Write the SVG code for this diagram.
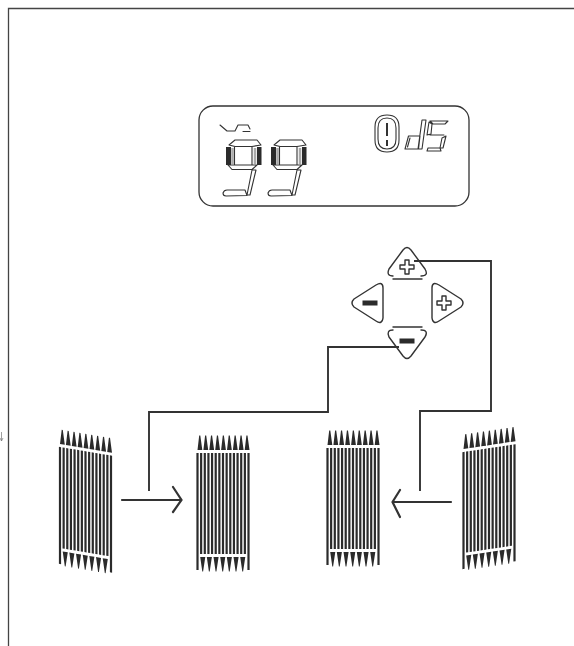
<svg xmlns="http://www.w3.org/2000/svg" width="574" height="646" viewBox="0 0 574 646">
<style>
.o{fill:none;stroke:#333;stroke-width:1.1;stroke-linejoin:round;stroke-linecap:round}
.k{fill:none;stroke:#333;stroke-width:1.400;stroke-linejoin:round;stroke-linecap:round}
.w{fill:none;stroke:#333;stroke-width:1.900;stroke-linejoin:miter;stroke-linecap:butt}
.a{fill:none;stroke:#333;stroke-width:2.200;stroke-linecap:round;stroke-linejoin:miter}
.b{fill:#2b2b2b}
.n{fill:none;stroke:#2b2b2b;stroke-width:2.200}
</style>
<defs>
<g id="digit">
<rect x="226" y="147" width="5" height="18" class="b"/>
<rect x="257" y="147" width="4.500" height="18" class="b"/>
<path d="M232.500 148V164M255 148V164" stroke="#aaa" stroke-width="2.500" fill="none"/>
<path class="o" d="M229 145L235 140H257L261 145L252 146.500H235ZM234.500 146.500V165M252 146.500V165M228 165L232 169.500H252L257 165H228M252 170H256L250 195H247ZM223 193Q224 190 227 190H245L247 195.500L226 196Q223 196 223 193Z"/>
</g>
<path id="plus" class="k" d="M-2 -7H2V-2H7V2H2V7H-2V2H-7V-2H-2Z"/>
<rect id="minus" class="b" x="-7.500" y="-2.500" width="15" height="5"/>
<g id="comb">
<path class="n" d="M0 18V135M3.640 18V119M7.290 18V119M10.930 18V119M14.570 18V119M18.210 18V119M21.860 18V119M25.500 18V119M29.140 18V119M32.790 18V119M36.430 18V119M40.070 18V119M43.710 18V119M47.360 18V119M51 18V135"/>
<path class="b" d="M0 15L1.700 0.500L2.800 0.500L4.800 15ZM5.900 15L7.600 0.500L8.700 0.500L10.700 15ZM11.800 15L13.500 0.500L14.600 0.500L16.600 15ZM17.700 15L19.400 0.500L20.500 0.500L22.500 15ZM23.600 15L25.300 0.500L26.400 0.500L28.400 15ZM29.500 15L31.200 0.500L32.300 0.500L34.300 15ZM35.400 15L37.100 0.500L38.200 0.500L40.200 15ZM41.300 15L43 0.500L44.100 0.500L46.100 15ZM47.200 15L48.900 0.500L50 0.500L52 15Z"/>
<path class="b" d="M2.700 122L4.800 136.500L5.600 136.500L7.800 122ZM9.300 122L11.400 136.500L12.200 136.500L14.400 122ZM16 122L18.100 136.500L18.900 136.500L21.100 122ZM22.700 122L24.800 136.500L25.600 136.500L27.800 122ZM29.300 122L31.400 136.500L32.200 136.500L34.400 122ZM36 122L38.100 136.500L38.900 136.500L41.100 122ZM42.700 122L44.800 136.500L45.600 136.500L47.800 122Z"/>
</g>
</defs>
<g id="frame"><path d="M8.500 646V8.500H574" fill="none" stroke="#444" stroke-width="1.300"/><path d="M1.500 432V441M0 438L1.500 441L3 438" fill="none" stroke="#777" stroke-width="0.700"/></g>
<g id="lcd">
<rect x="199" y="106" width="270" height="100" rx="14" fill="none" stroke="#333" stroke-width="1.300"/>
<path class="o" d="M220 125L227 131H235L238 125H248L250 129M243 131.500H250"/>
<use href="#digit"/>
<use href="#digit" x="45"/>
<path class="o" d="M375 127Q375 115 387 115Q399 115 399 127V140Q399 152 387 152Q375 152 375 140Z"/>
<path class="o" d="M378 128Q378 118 387 118Q396 118 396 128V139Q396 149 387 149Q378 149 378 139Z"/>
<path d="M387 123V136M387 140V146" stroke="#333" stroke-width="2" fill="none"/>
<path class="o" d="M422 120H426L422 149H418ZM408.500 136H420L418.500 149H405ZM410 138L407.500 147"/>
<path class="o" d="M430 121H448L445 124H433ZM429 122L432 124L431 134L427 135ZM430 135H444M446 136L443 148H440L442 138ZM428 148H440L441 151H427Z"/>
</g>
<g id="key-up"><path class="k" d="M393 276Q386 276 389 269L403 250Q407 245 411 250L425 269Q429 276 421 276M393 279H422"/><use href="#plus" x="407" y="267"/></g>
<g id="key-right"><path class="k" d="M432 288Q432 281 439 285L461 299Q465 303 461 307L439 321Q433 325 432 318Z"/><use href="#plus" x="444" y="303"/></g>
<g id="key-left"><path class="k" d="M383 288Q383 281 376 285L354 299Q350 303 354 307L376 321Q382 325 383 318Z"/><use href="#minus" x="370" y="303"/></g>
<g id="key-down"><path class="k" d="M393 330Q386 330 389 337L403 356Q407 361 411 356L425 337Q429 330 421 330M393 327H422"/><use href="#minus" x="407" y="341"/></g>
<g id="connectors">
<path class="w" d="M414 261H491V411H420V491"/>
<path class="w" d="M399 347H328V412H149V491"/>
<path class="a" d="M122 500H181M173 487L181.500 500L173 512"/>
<path class="a" d="M451 502H393M400 490L392.500 502L400 517"/>
</g>
<g id="comb1"><use href="#comb" transform="translate(60 429) skewY(9.500)"/></g>
<g id="comb2"><use href="#comb" transform="translate(197.500 435)"/></g>
<g id="comb3"><use href="#comb" transform="translate(327.500 430)"/></g>
<g id="comb4"><use href="#comb" transform="translate(463.500 434) skewY(-8.500)"/></g>
</svg>
